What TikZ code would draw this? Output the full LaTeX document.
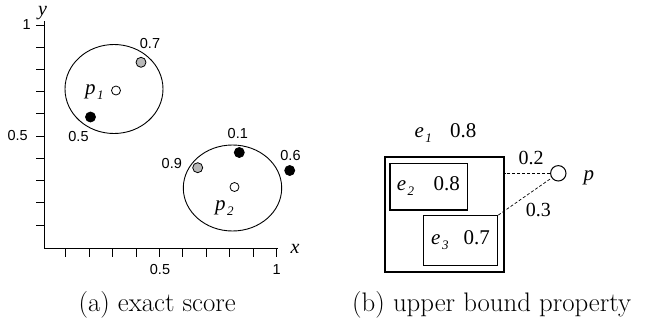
\documentclass[tikz,border=0pt]{standalone}
\usepackage{fontspec}
\newfontfamily\sfnum{Liberation Sans}
\newfontfamily\tms{Liberation Serif}
\newcommand\isub[3][13]{\textit{#2}\kern1.5pt\raisebox{-0.25em}{\fontsize{#1}{#1}\selectfont\textit{#3}}}
\begin{document}
\begin{tikzpicture}[x=1pt,y=-1pt,
  num/.style={font=\sfnum\fontsize{14.5}{16}\selectfont, inner sep=0pt},
  lbl/.style={font=\tms\fontsize{21}{24}\selectfont, inner sep=0pt},
  elbl/.style={font=\tms\fontsize{20}{22}\selectfont, inner sep=0pt},
  captxt/.style={font=\fontsize{26.8}{30}\selectfont, inner sep=0pt},
  dot/.style={circle, draw=black, line width=0.8pt, minimum size=10pt, inner sep=0pt},
  blk/.style={dot, fill=black},
  gry/.style={dot, fill=black!28},
  opn/.style={dot, fill=white, minimum size=9pt},
  axis/.style={line width=1.2pt},
  tick/.style={line width=0.9pt},
  region/.style={line width=0.9pt},
  bigbox/.style={draw, line width=2pt, inner sep=0pt},
  smallbox/.style={draw, line width=1.2pt, inner sep=0pt},
  dsh/.style={line width=0.7pt, dash pattern=on 3pt off 2pt}]
\useasboundingbox (0,0) rectangle (649,322);

% ---------- (a) ----------
\draw[axis] (44.5,21) -- (44.5,248.3) -- (278,248.3);
\foreach \k in {1,...,10}{
  \draw[tick] ({42.3+23.44*\k},248.3) -- ({42.3+23.44*\k},256.5);
  \draw[tick] (36,{247.2-22.22*\k}) -- (44.5,{247.2-22.22*\k});
}
\node[num, anchor=east] (y1) at (31,25) {1};
\node[num, anchor=east] (y05) at (28,136) {0.5};
\node[num] (x05) at (160,270) {0.5};
\node[num] (x1) at (276.7,270) {1};
\node[lbl, font=\tms\itshape\fontsize{20}{22}\selectfont] (ylab) at (42.5,13) {y};
\node[lbl, font=\tms\itshape\fontsize{20}{22}\selectfont] (xlab) at (295,249) {x};

\draw[region] (114,89) ellipse [x radius=49, y radius=44.5];
\draw[region] (232.5,188) ellipse [x radius=49.2, y radius=43];

\node[opn] (p1) at (116,90.5) {};
\node[gry] (q07) at (141,62.3) {};
\node[blk] (q05) at (90.5,117) {};
\node[blk] (q01) at (239.3,152.5) {};
\node[gry] (q09) at (197.7,167.7) {};
\node[blk] (q06) at (289.7,170.5) {};
\node[opn] (p2) at (234.5,187) {};

\node[num] (l07) at (150,43.5) {0.7};
\node[num] (l05) at (78.5,136.5) {0.5};
\node[num] (l01) at (237.8,133.3) {0.1};
\node[num] (l09) at (171.8,164) {0.9};
\node[num] (l06) at (290.5,155.5) {0.6};
\node[lbl, anchor=base west] (lp1) at (85,94) {\isub{p}{1}};
\node[lbl, anchor=base west] (lp2) at (215,210.7) {\isub{p}{2}};

\node[captxt, anchor=base] (capa) at (157.2,311.5) {(a) exact score};

% ---------- (b) ----------
\node[bigbox, minimum width=119pt, minimum height=115pt] (e1) at (444,214.8) {};
\node[smallbox, minimum width=77.7pt, minimum height=46.7pt] (e2) at (428.8,186.7) {};
\node[smallbox, minimum width=74.4pt, minimum height=50pt] (e3) at (460.5,240.7) {};
\node[dot, fill=white, line width=1pt, minimum size=15.4pt] (p) at (558.3,173.3) {};

\node[lbl, anchor=base west] (te1) at (414.3,137) {\isub[13]{e}{1}};
\node[lbl, anchor=base west] (ve1) at (450,137) {0.8};
\node[lbl, anchor=base west] (te2) at (396.7,190.3) {\isub[13]{e}{2}};
\node[lbl, anchor=base west] (ve2) at (433.3,190.3) {0.8};
\node[lbl, anchor=base west] (te3) at (431,244.5) {\isub[13]{e}{3}};
\node[lbl, anchor=base west] (ve3) at (463.3,244.5) {0.7};
\node[lbl, anchor=base west] (tp) at (583.3,180) {\textit{p}};

\draw[dsh] (p) -- (p -| e1.east);
\draw[dsh] (e3.north east) -- (p);
\node[elbl] (d2) at (531,157.5) {0.2};
\node[elbl] (d3) at (538.3,210) {0.3};

\node[captxt, anchor=base] (capb) at (491.7,311.5) {(b) upper bound property};
\end{tikzpicture}
\end{document}
